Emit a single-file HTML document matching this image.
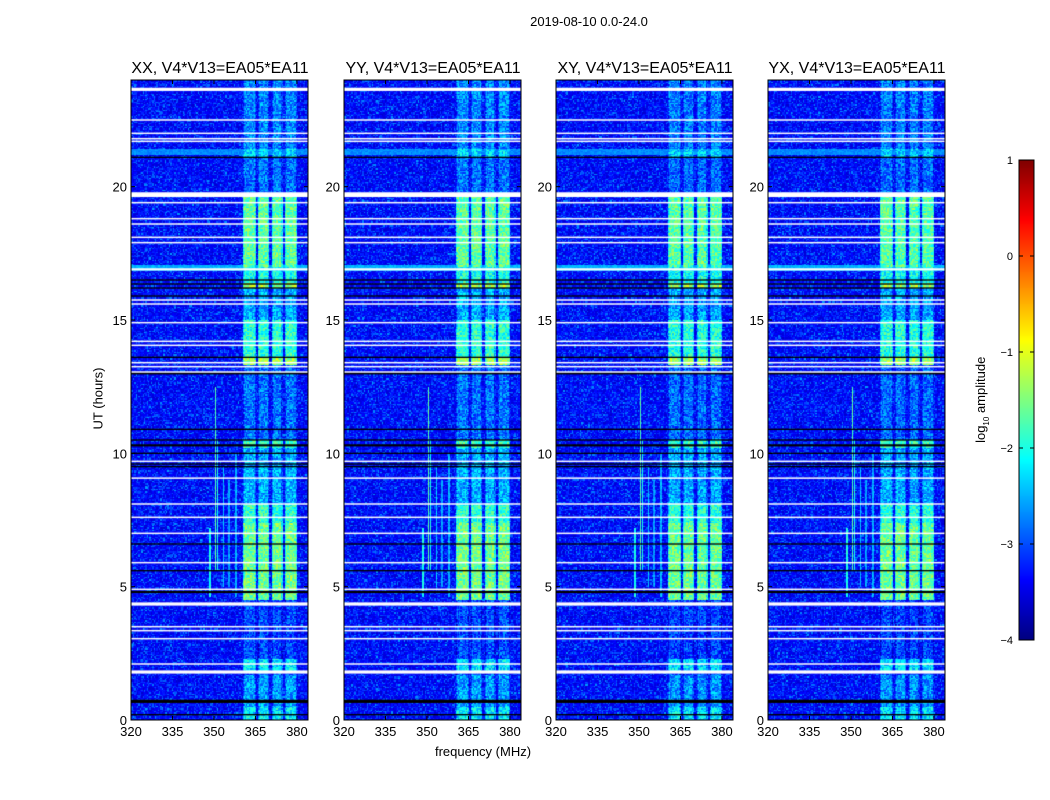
<!DOCTYPE html>
<html><head><meta charset="utf-8">
<style>
body{margin:0;background:#fff;}
#root{position:relative;width:1050px;height:800px;background:#fff;font-family:"Liberation Sans","DejaVu Sans",sans-serif;color:#000;overflow:hidden;}
.t{position:absolute;white-space:nowrap;}
canvas{position:absolute;}
svg{position:absolute;left:0;top:0;}
</style></head>
<body>
<div id="root">
<div class="t" style="left:489px;top:14px;width:200px;text-align:center;font-size:13px;">2019-08-10 0.0-24.0</div>
<div class="t" style="left:383px;top:744px;width:200px;text-align:center;font-size:13px;">frequency (MHz)</div>
<div class="t" style="left:48px;top:391px;width:100px;text-align:center;font-size:13px;transform:rotate(-90deg);">UT (hours)</div>
<div class="t" style="left:922px;top:391px;width:120px;text-align:center;font-size:13px;transform:rotate(-90deg);">log<sub style="font-size:8px">10</sub> amplitude</div>
<canvas id="cb" width="15" height="480" style="left:1019px;top:160px;width:15px;height:480px;"></canvas>
<svg id="ov" width="1050" height="800"></svg>
</div>
<script>
const panelTitles = ["XX, V4*V13=EA05*EA11","YY, V4*V13=EA05*EA11","XY, V4*V13=EA05*EA11","YX, V4*V13=EA05*EA11"];
const panelLeft = [131,344,556,768];
const xTicks = [320,335,350,365,380];
const yTicks = [0,5,10,15,20];
const cbTicks = [1,0,-1,-2,-3,-4];
const freqBands = [[360.5,365.2],[365.9,369.9],[371,374.9],[375.7,380]];
// [t0, t1, log10 level] inside bands
const timeSegments = [[0,0.5,-2.2],[0.5,1.7,-2.6],[1.8,2.3,-2.2],[2.3,4.4,-3.0],[4.5,7.4,-1.55],[7.4,8.1,-1.9],[8.1,10.2,-2.5],[10.2,10.5,-1.8],[10.5,13.3,-2.8],[13.3,13.6,-1.3],[13.6,15.0,-1.9],[15.0,16.2,-2.5],[16.2,16.4,-1.3],[16.4,17.0,-2.0],[17.0,19.7,-1.65],[19.7,21.1,-2.8],[21.1,21.4,-2.3],[21.4,24,-2.7]];
const flaggedRows = [[23.65,0.12],[22.5,0.05],[22.0,0.05],[21.8,0.05],[21.7,0.05],[19.7,0.18],[19.4,0.05],[18.8,0.05],[18.6,0.05],[18.1,0.05],[17.9,0.05],[16.9,0.08],[15.75,0.05],[15.6,0.05],[14.9,0.05],[14.2,0.05],[14.05,0.05],[13.4,0.05],[13.25,0.05],[13.05,0.05],[9.7,0.05],[9.07,0.05],[8.1,0.05],[7.6,0.05],[7.0,0.05],[5.9,0.05],[4.9,0.05],[4.35,0.12],[3.5,0.05],[3.35,0.05],[3.05,0.05],[2.1,0.05],[1.8,0.12]];
const blackRows = [[21.1,0.05],[16.5,0.05],[16.35,0.05],[16.2,0.05],[15.9,0.05],[13.6,0.05],[13.0,0.08],[10.9,0.05],[10.5,0.05],[10.3,0.08],[10.0,0.05],[9.6,0.05],[9.5,0.05],[6.6,0.05],[5.6,0.05],[4.8,0.08],[0.7,0.12],[0.2,0.05]];
// full-width rows [t, thickness, level]
const fullRows = [[21.3,0.2,-2.7],[16.95,0.25,-2.5]];
// narrow RFI lines [freq, t0, t1, level]
const rfiLines = [[350.5,5.6,12.5,-1.7],[351.2,5.6,10.5,-2.0],[353.5,5.0,9.5,-2.4],[355.5,5.0,9.0,-2.6],[358,4.6,10,-2.5],[348.5,4.6,7.2,-2.0]];

const W=177,H=640,F0=320,F1=384,T0=0,T1=24,VMIN=-4,VMAX=1;
function jet(v){let x=(v-VMIN)/(VMAX-VMIN);x=Math.max(0,Math.min(1,x));const c=a=>Math.round(255*Math.max(0,Math.min(1,1.5-Math.abs(4*x-a))));return [c(3),c(2),c(1)];}
function hsh(a,b,c){let h=(a*374761393+b*668265263+c*2147483647)|0;h=(h^(h>>>13))*1274126177|0;h=h^(h>>>16);return ((h>>>0)%10000)/10000;}
function xs(f,l){return l+(f-F0)/(F1-F0)*W;}
function ys(t){return 80+(T1-t)/(T1-T0)*H;}
const root=document.getElementById('root');
const ov=document.getElementById('ov');
const NS='http://www.w3.org/2000/svg';
function sv(tag,at){const e=document.createElementNS(NS,tag);for(const k in at)e.setAttribute(k,at[k]);ov.appendChild(e);return e;}
function segLevel(t){for(const s of timeSegments)if(t>=s[0]&&t<s[1])return s[2];return -3;}
panelLeft.forEach((L,p)=>{
  const cv=document.createElement('canvas');
  cv.width=W;cv.height=H;cv.style.left=L+'px';cv.style.top='80px';
  
  
  root.insertBefore(cv,ov);
  const ctx=cv.getContext('2d');const img=ctx.createImageData(W,H);
  for(let y=0;y<H;y++){const t=T1-(y+0.5)/H*(T1-T0);const ti=Math.floor(y/1.33);
    for(let x=0;x<W;x++){const f=F0+(x+0.5)/W*(F1-F0);const ci=Math.floor(x/1.38);
      const n=hsh(ci,ti,p+1);const n2=hsh(ci+7,ti+3,p+11);let v=-3.62+n*n2*0.9+n*0.2;
      for(const b of freqBands){if(f>=b[0]&&f<b[1]){const edge=Math.min(f-b[0],b[1]-f)<0.5?0.4:0;v=segLevel(t)+(n-0.5)*0.9-edge-(p>=2?0.05:0);}}
      for(const r of fullRows){if(Math.abs(t-r[0])<r[1]/2)v=Math.max(v,r[2]+(n-0.5)*0.3);}
      for(const r of rfiLines){if(Math.abs(f-r[0])<0.25&&t>=r[1]&&t<r[2])v=Math.max(v,r[3]+(n-0.5)*0.4);}
      const c=jet(v);const i=(y*W+x)*4;img.data[i]=c[0];img.data[i+1]=c[1];img.data[i+2]=c[2];img.data[i+3]=255;}}
  ctx.putImageData(img,0,0);
  ctx.fillStyle='#000';
  for(const r of blackRows){const y=(T1-r[0])/(T1-T0)*H;ctx.fillRect(0,y-Math.max(1,r[1]*26.7)/2,W,Math.max(1,r[1]*26.7));}
  ctx.fillStyle='#fff';
  for(const r of flaggedRows){const y=(T1-r[0])/(T1-T0)*H;ctx.fillRect(0,y-Math.max(1.5,r[1]*26.7)/2,W,Math.max(1.5,r[1]*26.7));}
  const fr=sv('rect',{x:L,y:80,width:W,height:H,fill:'none',stroke:'#000','stroke-width':1});
  
  xTicks.forEach(v=>{const x=xs(v,L);sv('line',{x1:x,x2:x,y1:720,y2:716,stroke:'#000'});sv('line',{x1:x,x2:x,y1:80,y2:84,stroke:'#000'});
    const tx=sv('text',{x:x,y:736,'font-size':13,'text-anchor':'middle','font-family':'Liberation Sans'});tx.textContent=v;
    });
  yTicks.forEach(v=>{const y=ys(v);sv('line',{x1:L,x2:L+4,y1:y,y2:y,stroke:'#000'});sv('line',{x1:L+W,x2:L+W-4,y1:y,y2:y,stroke:'#000'});
    const tx=sv('text',{x:L-4,y:y+5,'font-size':13,'text-anchor':'end','font-family':'Liberation Sans'});tx.textContent=v;
    });
  const tt=sv('text',{x:L+89,y:73,'font-size':16,'text-anchor':'middle','font-family':'Liberation Sans'});tt.textContent=panelTitles[p];
  
});
const cb=document.getElementById('cb').getContext('2d');
for(let y=0;y<480;y++){const c=jet(VMAX-(y+0.5)/480*(VMAX-VMIN));cb.fillStyle='rgb('+c+')';cb.fillRect(0,y,15,1);}
sv('rect',{x:1019,y:160,width:15,height:480,fill:'none',stroke:'#000'});
cbTicks.forEach(v=>{const y=160+(VMAX-v)/(VMAX-VMIN)*480;sv('line',{x1:1019,x2:1023,y1:y,y2:y,stroke:'#000'});sv('line',{x1:1034,x2:1030,y1:y,y2:y,stroke:'#000'});
  const tx=sv('text',{x:1013,y:y+4,'font-size':11,'text-anchor':'end','font-family':'Liberation Sans'});tx.textContent=v<0?'\u2212'+(-v):v;
  });
</script>
</body></html>
